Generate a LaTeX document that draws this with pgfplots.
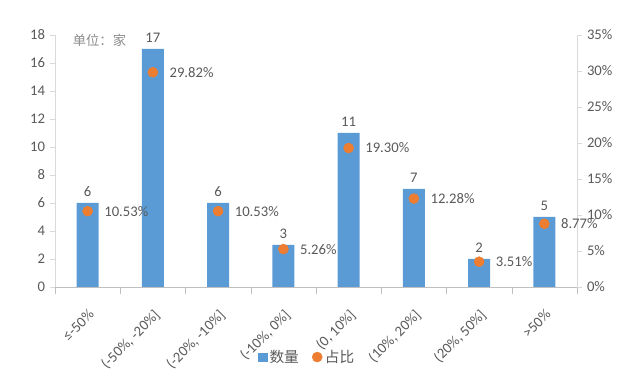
\documentclass[border=0pt]{standalone}
\usepackage{pgfplots}
\pgfplotsset{compat=1.18}
\usepackage{fontspec}
\setmainfont{Carlito}
\newfontfamily\cjk{Noto Sans CJK SC}
\definecolor{barblue}{HTML}{5B9BD5}
\definecolor{dotorange}{HTML}{ED7D31}
\definecolor{txt}{HTML}{595959}
\definecolor{unitgray}{HTML}{8C8C8C}
\definecolor{axgray}{HTML}{D9D9D9}
\definecolor{xgray}{HTML}{BFBFBF}
\pgfplotsset{/pgf/number format/assume math mode=true}
\begin{document}
\begin{tikzpicture}
\path[use as bounding box] (0,0) rectangle (480pt,283.5pt);
\begin{axis}[
  at={(41.25pt,68.25pt)}, anchor=south west,
  scale only axis, width=391.5pt, height=189pt,
  xmin=-0.5, xmax=7.5, ymin=0, ymax=18,
  axis x line*=bottom, axis y line*=left,
  x axis line style={draw=xgray},
  y axis line style={draw=axgray},
  tick align=outside,
  ytick={0,2,...,18},
  ytick style={draw=axgray},
  major tick length=4pt,
  xtick={0,...,7},
  xticklabels={{≤-50\%},{(-50\%, -20\%]},{(-20\%, -10\%]},{(-10\%, 0\%]},{(0, 10\%]},{(10\%, 20\%]},{(20\%, 50\%]},{>50\%}},
  major x tick style={draw=none},
  minor xtick={-0.5,0.5,...,7.5},
  minor x tick style={draw=xgray},
  minor tick length=5pt,
  ticklabel style={font=\fontsize{11}{13}\selectfont, text=txt},
  xticklabel style={xshift=0pt, yshift=-7pt, rotate=45, anchor=north east},
  clip=false,
]
\addplot[ybar, bar width=16.5pt, fill=barblue, draw=none,
  nodes near coords,
  every node near coord/.append style={font=\fontsize{11}{13}\selectfont, text=txt, yshift=1pt}]
  coordinates {(0,6) (1,17) (2,6) (3,3) (4,11) (5,7) (6,2) (7,5)};
\node[anchor=west, font=\cjk\fontsize{10}{12}\selectfont, text=unitgray] at (rel axis cs:0.025,0.98) {单位：家};
\end{axis}
\begin{axis}[
  at={(41.25pt,68.25pt)}, anchor=south west,
  scale only axis, width=391.5pt, height=189pt,
  xmin=-0.5, xmax=7.5, ymin=0, ymax=35,
  axis x line=none, axis y line*=right,
  y axis line style={draw=axgray},
  tick align=outside,
  major tick length=4pt,
  ytick={0,5,...,35},
  ytick style={draw=axgray},
  yticklabel={\pgfmathprintnumber{\tick}\%},
  ticklabel style={font=\fontsize{11}{13}\selectfont, text=txt},
  clip=false,
  legend columns=2,
  legend style={at={(0.484,-0.278)}, anchor=center, draw=none, fill=none,
    font=\cjk\fontsize{11}{13}\selectfont, text=txt,
    /tikz/every even column/.append style={column sep=8pt}},
]
\addlegendimage{only marks, mark=square*, mark size=3.2pt, mark options={fill=barblue, draw=barblue}}
\addlegendentry{数量}
\addplot[only marks, mark=*, mark size=3.75pt, mark options={fill=dotorange, draw=dotorange},
  nodes near coords={\pgfmathprintnumber[fixed,fixed zerofill,precision=2]{\pgfplotspointmeta}\%},
  every node near coord/.append style={anchor=west, xshift=9pt, font=\fontsize{11}{13}\selectfont, text=txt}]
  coordinates {(0,10.53) (1,29.82) (2,10.53) (3,5.26) (4,19.30) (5,12.28) (6,3.51) (7,8.77)};
\addlegendentry{占比}
\end{axis}
\end{tikzpicture}
\end{document}
